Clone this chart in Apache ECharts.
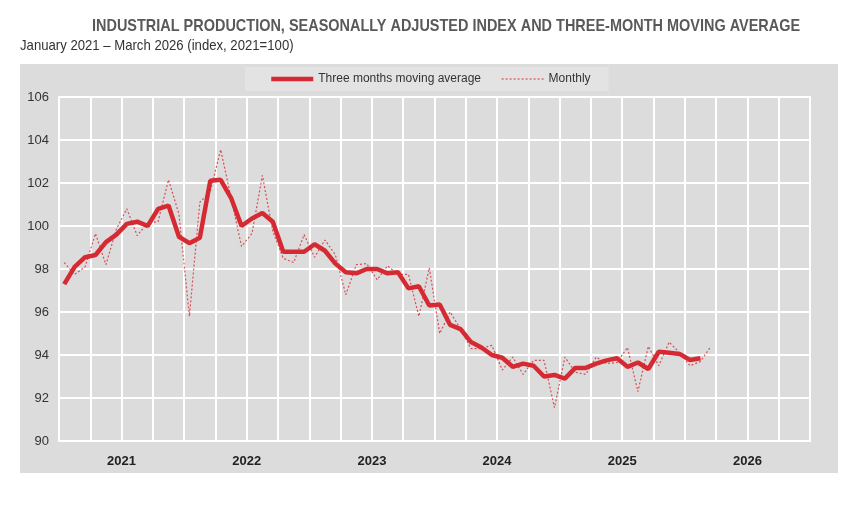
<!DOCTYPE html>
<html>
<head>
<meta charset="utf-8">
<script src="https://cdn.jsdelivr.net/npm/echarts@6/dist/echarts.min.js"></script>
<style>
  html, body { margin: 0; padding: 0; background: #fff; }
  #chart { width: 857px; height: 505px; }
</style>
</head>
<body>
<div id="chart"></div>
<script>
const years = ['2021', '2022', '2023', '2024', '2025', '2026']
const monthsPerYear = 12

// monthly index, Jan 2021 .. Mar 2026
const monthly = [
  98.3, 97.75, 98.1, 99.65, 98.2, 99.85, 100.8, 99.55, 100.15, 100.2, 102.15, 100.55,
  95.8, 101.1, 101.6, 103.55, 101.3, 99.05, 99.65, 102.35, 99.75, 98.5, 98.3, 99.6,
  98.55, 99.35, 98.65, 96.8, 98.2, 98.25, 97.5, 98.15, 97.75, 97.75, 95.8, 98.05,
  95.0, 96.0, 95.2, 94.3, 94.3, 94.45, 93.3, 93.9, 93.1, 93.75, 93.75, 91.55,
  93.9, 93.2, 93.1, 93.9, 93.6, 93.65, 94.35, 92.3, 94.4, 93.5, 94.6, 94.1,
  93.5, 93.7, 94.4
]

// three months moving average, Jan 2021 .. Feb 2026
const movingAvg = [
  97.3, 98.1, 98.55, 98.65, 99.25, 99.6, 100.1, 100.2, 100.0, 100.8, 100.95, 99.5,
  99.2, 99.45, 102.1, 102.15, 101.3, 100.0, 100.35, 100.6, 100.2, 98.8, 98.8, 98.8,
  99.15, 98.85, 98.25, 97.85, 97.8, 98.0, 98.0, 97.8, 97.85, 97.1, 97.2, 96.3,
  96.35, 95.4, 95.2, 94.6, 94.35, 94.0, 93.87, 93.45, 93.6, 93.5, 93.0, 93.07,
  92.9, 93.4, 93.4, 93.6, 93.75, 93.85, 93.45, 93.65, 93.35, 94.15, 94.1, 94.05,
  93.77, 93.85
]

const titleText = 'INDUSTRIAL PRODUCTION, SEASONALLY ADJUSTED INDEX AND THREE-MONTH MOVING AVERAGE'
const subtitleText = 'January 2021 \u2013 March 2026 (index, 2021=100)'

const months = []
years.forEach((y) => {
  for (let m = 1; m <= monthsPerYear; m++) months.push(y + '-' + m)
})

const font = "'Liberation Sans', Arial, sans-serif"
const red = '#d62a33'

const chart = echarts.init(document.getElementById('chart'))

chart.setOption({
  animation: false,
  backgroundColor: '#fff',
  textStyle: { fontFamily: font },
  graphic: [
    {
      type: 'rect',
      z: -10,
      shape: { x: 20, y: 64, width: 818, height: 409 },
      style: { fill: '#dcdcdc' }
    },
    // narrow look: squeeze the text horizontally
    {
      type: 'text',
      x: 92,
      y: 18,
      scaleX: 0.851,
      style: { text: titleText, font: 'bold 17px ' + font, fill: '#595959' }
    },
    {
      type: 'text',
      x: 20,
      y: 38,
      scaleX: 0.876,
      style: { text: subtitleText, font: '15px ' + font, fill: '#333' }
    }
  ],
  legend: {
    left: 245,
    top: 67,
    backgroundColor: '#e3e3e3',
    padding: [6, 18, 6, 24],
    itemWidth: 42,
    itemHeight: 12,
    itemGap: 20,
    itemStyle: { color: 'rgba(0,0,0,0)', borderColor: 'rgba(0,0,0,0)', borderWidth: 0 },
    textStyle: { fontFamily: font, fontSize: 12, color: '#333' },
    data: [
      { name: 'Three months moving average', lineStyle: { width: 4.5 } },
      { name: 'Monthly', lineStyle: { width: 1.2 } }
    ]
  },
  grid: {
    left: 59,
    right: 47,
    top: 97,
    bottom: 64,
    show: true,
    backgroundColor: '#dcdcdc',
    borderColor: '#fff',
    borderWidth: 2,
    containLabel: false
  },
  xAxis: [
    {
      type: 'category',
      data: months,
      boundaryGap: true,
      axisLine: { show: false },
      axisTick: { show: false },
      axisLabel: { show: false },
      splitLine: {
        show: true,
        interval: (i) => i % 3 === 0,
        lineStyle: { color: '#fff', width: 2 }
      }
    },
    {
      type: 'category',
      data: years,
      boundaryGap: true,
      position: 'bottom',
      axisLine: { show: false },
      axisTick: { show: false },
      splitLine: { show: false },
      axisLabel: { margin: 14, fontFamily: font, fontSize: 13, fontWeight: 'bold', color: '#222' }
    }
  ],
  yAxis: {
    type: 'value',
    min: 90,
    max: 106,
    interval: 2,
    axisLine: { show: false },
    axisTick: { show: false },
    axisLabel: { margin: 10, fontFamily: font, fontSize: 13, color: '#333' },
    splitLine: { lineStyle: { color: '#fff', width: 2 } }
  },
  series: [
    {
      name: 'Three months moving average',
      type: 'line',
      xAxisIndex: 0,
      data: movingAvg,
      symbol: 'none',
      z: 3,
      lineStyle: { color: red, width: 4.5 },
      itemStyle: { color: red }
    },
    {
      name: 'Monthly',
      type: 'line',
      xAxisIndex: 0,
      data: monthly,
      symbol: 'none',
      z: 2,
      lineStyle: { color: red, width: 1.2, type: [2, 2], opacity: 0.8 },
      itemStyle: { color: red }
    }
  ]
})
</script>
</body>
</html>
